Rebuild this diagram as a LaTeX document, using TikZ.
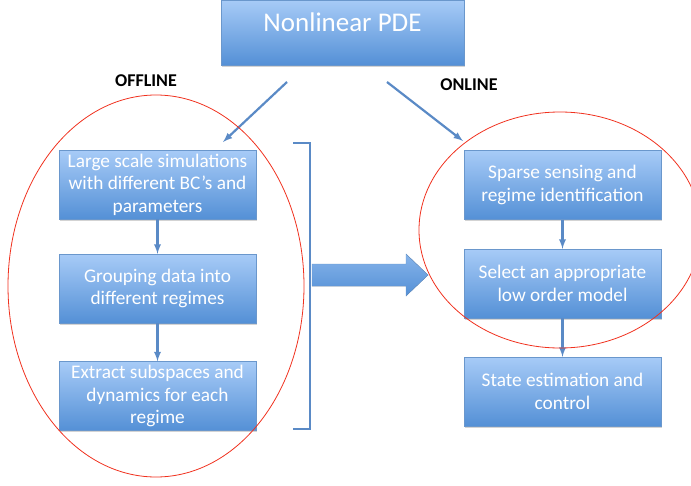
\documentclass[tikz,border=0pt]{standalone}
\usepackage{fontspec}
\setmainfont{Carlito}
\usetikzlibrary{shadows}
\definecolor{boxtop}{HTML}{A7CBF7}
\definecolor{boxbot}{HTML}{5490D6}
\definecolor{boxline}{HTML}{6A97CC}
\definecolor{linkblue}{HTML}{5A8AC6}
\definecolor{ringred}{HTML}{F0311E}
\tikzset{
  stepbox/.style={draw=boxline, top color=boxtop, bottom color=boxbot,
    minimum width=197pt, minimum height=69pt, inner sep=2pt,
    text=white, align=center, font=\fontsize{19.3}{22.5}\selectfont,
    drop shadow={shadow xshift=1pt, shadow yshift=-1.5pt, opacity=.35}},
  link/.style={draw=linkblue, line width=2.2pt, -latex},
  ring/.style={draw=ringred, line width=.8pt},
  tag/.style={font=\fontsize{18}{20}\selectfont\bfseries}
}
\begin{document}
\begin{tikzpicture}[x=1pt, y=-1pt]
    \useasboundingbox (0,0) rectangle (691,485);

    \node[stepbox, minimum width=243pt, minimum height=65pt,
      font=\fontsize{27}{30}\selectfont, text depth=20pt] (pde) at (342.5,32.5) {Nonlinear PDE};
    \node[tag] (offline) at (146,81) {OFFLINE};
    \node[tag] (online) at (469,85) {ONLINE};

    % offline column
    \node[stepbox] (sim) at (157.5,184.5) {Large scale simulations\\with different BC’s and\\parameters};
    \node[stepbox] (group) at (157.5,288.5) {Grouping data into\\different regimes};
    \node[stepbox] (extract) at (157.5,396) {Extract subspaces and\\dynamics for each\\regime};

    % online column
    \node[stepbox] (sense) at (562.5,185) {Sparse sensing and\\regime identification};
    \node[stepbox] (select) at (562.5,283.5) {Select an appropriate\\low order model};
    \node[stepbox] (state) at (562.5,391.5) {State estimation and\\control};

    \coordinate (split1) at (287,82);
    \coordinate (split2) at (387,82);
    \coordinate (offin) at (223,142);
    \coordinate (onin) at (463,141);
    \draw[link] (split1) -- (offin);
    \draw[link] (split2) -- (onin);

    \foreach \a/\b in {sim/group, group/extract, sense/select, select/state}
      \draw[link] (\a.south) -- (\b.north);

    \draw[ring] (156,286) ellipse (148 and 191);
    \draw[ring] (560,230) ellipse (141 and 118);

    % bracket and transfer arrow
    \draw[draw=linkblue, line width=2pt] (293,143) -- (310,143) -- (310,429) -- (293,429);
    \filldraw[top color=boxtop!60!boxbot, bottom color=boxbot, draw=boxline]
      (312,264) -- (406,264) -- (406,254) -- (428,275)
      -- (406,296) -- (406,286) -- (312,286) -- cycle;
  \end{tikzpicture}
\end{document}
